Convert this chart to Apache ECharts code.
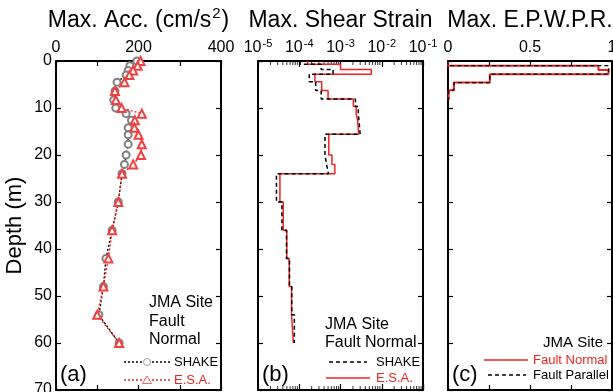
<!DOCTYPE html>
<html>
<head>
<meta charset="utf-8">
<script src="https://cdn.jsdelivr.net/npm/echarts@6/dist/echarts.min.js"></script>
<style>
  html, body { margin: 0; padding: 0; background: #fff; }
  #chart { width: 613px; height: 392px; }
</style>
</head>
<body>
<div id="chart"></div>
<script>
// (a) max acceleration, points at layer depths
const accDepth = [0, 1, 2, 3, 4.5, 6.4, 8.3, 10, 11.2, 12.6, 14.2, 15.7, 17.7, 20, 22, 24, 30, 36, 42, 48, 54, 60]
const accShake = [196, 179, 175, 170, 148, 143, 140, 145, 170, 183, 175, 175, 175, 170, 166, 160, 151, 136, 121, 115, 104, 153]
const accEsa = [205, 198, 187, 178, 166, 143, 145, 159, 208, 191, 190, 200, 208, 206, 187, 160, 151, 136, 127, 115, 100, 153]

// (b) max shear strain, one value per layer (layer boundaries in m)
const strainBounds = [0, 0.7, 1.8, 2.8, 4.4, 6.3, 8.1, 9.7, 11.2, 12.6, 15.6, 20, 22, 24, 30, 36, 42, 48, 54, 60]
const strainShake = [1.05e-4, 3.4e-4, 6.6e-4, 1.75e-4, 2.5e-4, 3.4e-4, 2.3e-3, 2.7e-3, 2.8e-3, 3.0e-3, 4.2e-4, 4.6e-4, 5.1e-4, 2.8e-5, 3.8e-5, 4.9e-5, 5.8e-5, 6.6e-5, 7.6e-5]
const strainEsa = [1.6e-4, 1.0e-3, 5.6e-3, 2.4e-4, 3.5e-4, 5.0e-4, 2.05e-3, 2.4e-3, 2.6e-3, 2.75e-3, 5.2e-4, 6.2e-4, 7.3e-4, 3.4e-5, 4.1e-5, 5.0e-5, 5.7e-5, 6.5e-5, 7.2e-5]

// (c) max excess pore water pressure ratio per layer
const eppBounds = [0, 1, 1.9, 2.8, 4.6, 6.2, 8.2]
const eppNormal = [0, 0.917, 0.978, 0.255, 0.036, 0.004]
const eppParallel = [0, 0.98, 0.98, 0.255, 0.036, 0.004]

const accTicks = [0, 200, 400]
const eppTicks = [0, 0.5, 1]

const FONT = 'Liberation Sans, Arial, Helvetica, sans-serif'
const RED = '#ee2424'

const chart = echarts.init(document.getElementById('chart'))

const stepPoints = (bounds, vals) => {
  const pts = []
  vals.forEach((v, i) => {
    pts.push([v, bounds[i]])
    pts.push([v, bounds[i + 1]])
  })
  return pts
}

// minor ticks for the log axis (2..9 in each decade)
const minorLog = []
for (let k = -5; k <= -2; k++) {
  for (let m = 2; m <= 9; m++) minorLog.push(m * Math.pow(10, k))
}

const grids = [
  { left: 56, top: 61, width: 165, height: 329, outerBoundsMode: 'none' },
  { left: 258, top: 61, width: 165, height: 329, outerBoundsMode: 'none' },
  { left: 448, top: 61, width: 164, height: 329, outerBoundsMode: 'none' }
]

const axisLine = { show: true, onZero: false, lineStyle: { color: '#000', width: 2 } }
const tick = { show: true, inside: true, length: 5, lineStyle: { color: '#000', width: 1.2 } }

const titleRich = {
  t: { fontSize: 23, fontFamily: FONT, color: '#000', lineHeight: 26, verticalAlign: 'bottom' },
  sup: { fontSize: 15, fontFamily: FONT, color: '#000', lineHeight: 26, verticalAlign: 'top', padding: [0, 1, 0, 1] }
}
const titles = ['{t|Max. Acc. (cm/s}{sup|2}{t|)}', '{t|Max. Shear Strain}', '{t|Max. E.P.W.P.R.}']

const makeX = (grid, top, extra) => Object.assign({
  gridIndex: grid,
  position: top ? 'top' : 'bottom',
  axisLine,
  axisTick: tick,
  splitLine: { show: false },
  axisLabel: top
    ? { show: true, color: '#000', fontSize: 16, fontFamily: FONT, margin: 5 }
    : { show: false },
  nameTextStyle: { color: '#000', fontSize: 23, fontFamily: FONT, rich: titleRich }
}, extra)

const topLabel = { show: true, color: '#000', fontSize: 16, fontFamily: FONT, margin: 5 }

const xAxes = []
for (let g = 0; g < 3; g++) {
  for (const top of [true, false]) {
    let extra
    if (g === 0) {
      extra = { type: 'value', min: 0, max: 400, interval: 100 }
      if (top) extra.axisLabel = Object.assign({}, topLabel, {
        formatter: v => (accTicks.includes(v) ? String(v) : '')
      })
    } else if (g === 1) {
      extra = { type: 'log', logBase: 10, min: 1e-5, max: 1e-1, axisTick: Object.assign({}, tick, { length: 6 }) }
      if (top) extra.axisLabel = {
        show: true, margin: 5,
        formatter: v => '{b|10}{s|' + Math.round(Math.log10(v)) + '}',
        rich: {
          b: { fontSize: 16, fontFamily: FONT, color: '#000', lineHeight: 18, verticalAlign: 'bottom' },
          s: { fontSize: 11, fontFamily: FONT, color: '#000', lineHeight: 18, verticalAlign: 'top', padding: [0, 0, 0, 1] }
        }
      }
    } else {
      extra = { type: 'value', min: 0, max: 1, interval: 0.25 }
      if (top) extra.axisLabel = Object.assign({}, topLabel, {
        formatter: v => (eppTicks.includes(v) ? String(v) : '')
      })
    }
    if (top) {
      extra.name = titles[g]
      extra.nameLocation = 'middle'
      extra.nameGap = 29
    }
    xAxes.push(makeX(g, top, extra))
  }
}

const yAxes = []
for (let g = 0; g < 3; g++) {
  for (const left of [true, false]) {
    const ax = {
      gridIndex: g,
      type: 'value',
      position: left ? 'left' : 'right',
      inverse: true,
      min: 0,
      max: 70,
      interval: 10,
      axisLine,
      axisTick: tick,
      splitLine: { show: false },
      axisLabel: { show: false }
    }
    if (g === 0 && left) {
      ax.axisLabel = { show: true, color: '#000', fontSize: 16, fontFamily: FONT, margin: 4 }
      ax.name = 'Depth (m)'
      ax.nameLocation = 'middle'
      ax.nameGap = 30
      ax.nameTextStyle = { color: '#000', fontSize: 22, fontFamily: FONT }
    }
    yAxes.push(ax)
  }
}

const series = [
  {
    name: 'SHAKE', type: 'line', xAxisIndex: 0, yAxisIndex: 0,
    data: accDepth.map((d, i) => [accShake[i], d]),
    symbol: 'emptyCircle', symbolSize: 7,
    itemStyle: { color: '#808080', borderWidth: 0.8 },
    lineStyle: { color: '#000', width: 1.4, type: [2, 2] },
    z: 3
  },
  {
    name: 'E.S.A.', type: 'line', xAxisIndex: 0, yAxisIndex: 0,
    data: accDepth.map((d, i) => [accEsa[i], d]),
    symbol: 'emptyTriangle', symbolSize: 8,
    itemStyle: { color: '#f04040', borderWidth: 0.8 },
    lineStyle: { color: RED, width: 1.4, type: [2, 2] },
    z: 4
  },
  {
    name: 'E.S.A. strain', type: 'line', xAxisIndex: 2, yAxisIndex: 2,
    data: stepPoints(strainBounds, strainEsa), showSymbol: false,
    lineStyle: { color: RED, width: 1.5 }
  },
  {
    name: 'SHAKE strain', type: 'line', xAxisIndex: 2, yAxisIndex: 2,
    data: stepPoints(strainBounds, strainShake), showSymbol: false,
    lineStyle: { color: '#000', width: 1.5, type: [4, 3] }
  },
  {
    name: 'ticks top', type: 'scatter', xAxisIndex: 2, yAxisIndex: 2, silent: true, clip: false,
    data: minorLog.map(v => [v, 0]), symbol: 'rect', symbolSize: [1, 4], symbolOffset: [0, 2],
    itemStyle: { color: '#000' }
  },
  {
    name: 'ticks bottom', type: 'scatter', xAxisIndex: 2, yAxisIndex: 2, silent: true, clip: false,
    data: minorLog.map(v => [v, 70]), symbol: 'rect', symbolSize: [1, 4], symbolOffset: [0, -2],
    itemStyle: { color: '#000' }
  },
  {
    name: 'Fault Normal', type: 'line', xAxisIndex: 4, yAxisIndex: 4,
    data: stepPoints(eppBounds, eppNormal), showSymbol: false,
    lineStyle: { color: RED, width: 2 }
  },
  {
    name: 'Fault Parallel', type: 'line', xAxisIndex: 4, yAxisIndex: 4,
    data: stepPoints(eppBounds, eppParallel), showSymbol: false,
    lineStyle: { color: '#000', width: 1.3, type: [4, 3] }
  }
]

const txt = (x, y, text, size, color, align) => ({
  type: 'text', x, y, silent: true, z: 10,
  style: { text, fontSize: size, fontFamily: FONT, fill: color || '#000', align: align || 'left', verticalAlign: 'middle' }
})
const seg = (x1, x2, y, color, dash, w) => ({
  type: 'line', silent: true,
  shape: { x1, y1: y, x2, y2: y },
  style: { stroke: color, lineWidth: w || 1.5, lineDash: dash || null }
})

const graphic = [
  // (a)
  txt(149, 303, 'JMA Site', 16), txt(149, 322, 'Fault', 16), txt(149, 340, 'Normal', 16),
  seg(124, 172, 362, '#000', [2, 2]),
  { type: 'circle', silent: true, shape: { cx: 147, cy: 362, r: 3.5 }, style: { fill: '#fff', stroke: '#808080', lineWidth: 0.8 } },
  txt(174, 362, 'SHAKE', 13),
  seg(124, 172, 380, RED, [2, 2]),
  { type: 'polygon', silent: true, shape: { points: [[147, 376], [151.5, 383.5], [142.5, 383.5]] }, style: { fill: '#fff', stroke: '#f04040', lineWidth: 0.8 } },
  txt(174, 380, 'E.S.A.', 13, RED),
  txt(60, 375, '(a)', 22),
  // (b)
  txt(325, 325, 'JMA Site', 16), txt(325, 343, 'Fault Normal', 16),
  seg(329, 367, 362, '#000', [4, 3]),
  txt(376, 362, 'SHAKE', 13),
  seg(326, 370, 378, RED),
  txt(376, 378, 'E.S.A.', 13, RED),
  txt(262, 375, '(b)', 22),
  // (c)
  txt(603, 343, 'JMA Site', 15, '#000', 'right'),
  seg(484, 528, 360, RED),
  txt(533, 360, 'Fault Normal', 13, RED),
  seg(488, 526, 375, '#000', [4, 3]),
  txt(533, 375, 'Fault Parallel', 13),
  txt(452, 375, '(c)', 22)
]

chart.setOption({
  animation: false,
  textStyle: { fontFamily: FONT },
  grid: grids,
  xAxis: xAxes,
  yAxis: yAxes,
  series,
  graphic
})

window.addEventListener('resize', () => chart.resize())
</script>
</body>
</html>
